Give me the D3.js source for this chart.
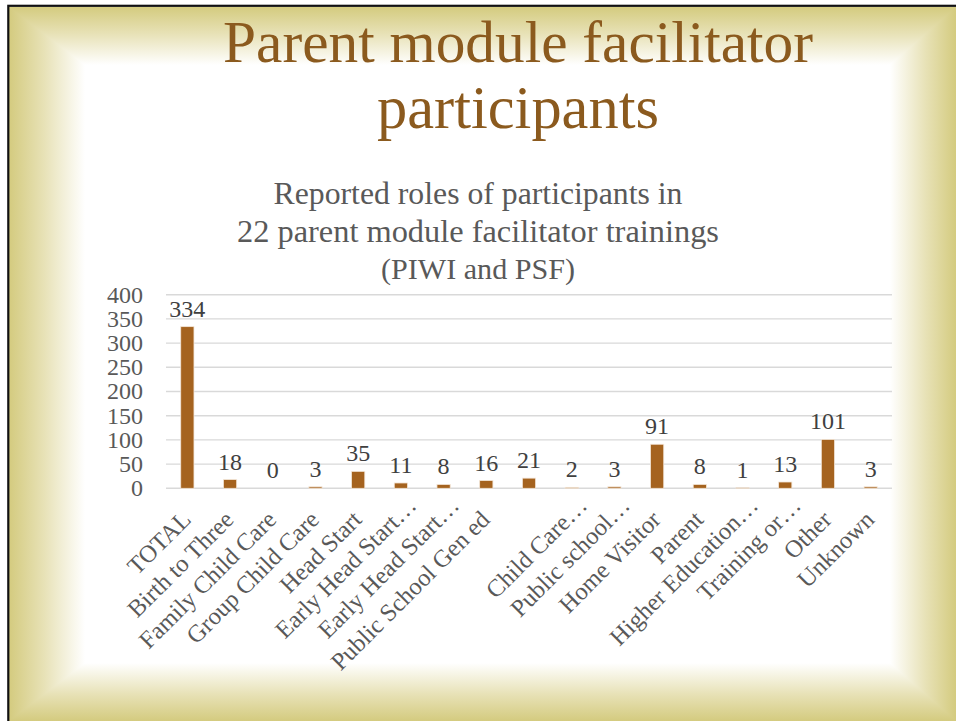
<!DOCTYPE html>
<html>
<head>
<meta charset="utf-8">
<script src="https://cdn.jsdelivr.net/npm/d3@7"></script>
<style>
  html, body { margin: 0; padding: 0; background: #fff; }
  svg { display: block; }
  text { font-family: "Liberation Serif", "DejaVu Serif", serif; }
</style>
</head>
<body>
<svg id="slide" width="956" height="721"></svg>
<script>
const width = 956;
const height = 721;

// roles (as labelled on the axis, the 9th one has no label)
const roles = [
  'TOTAL',
  'Birth to Three',
  'Family Child Care',
  'Group Child Care',
  'Head Start',
  'Early Head Start…',
  'Early Head Start…',
  'Public School Gen ed',
  '',
  'Child Care…',
  'Public school…',
  'Home Visitor',
  'Parent',
  'Higher Education…',
  'Training or…',
  'Other',
  'Unknown'
];
const counts = [334, 18, 0, 3, 35, 11, 8, 16, 21, 2, 3, 91, 8, 1, 13, 101, 3];
const yTicks = [0, 50, 100, 150, 200, 250, 300, 350, 400];
const titleLines = ['Parent module facilitator', 'participants'];
const chartTitleLines = [
  'Reported roles of participants in',
  '22 parent module facilitator  trainings',
  '(PIWI and PSF)'
];

const khaki = '#D4CB7F';
const barColor = '#A5631F';

const svg = d3.select('#slide');
const defs = svg.append('defs');

// SLIDE BACKGROUND: white centre, khaki edges with mitred corners
const outer = { x0: 9, y0: 7, x1: width, y1: height };
const inner = { x0: 85, y0: 65, x1: 890, y1: 663 };

svg.append('rect')
  .attr('width', width)
  .attr('height', height)
  .attr('fill', '#fff');

const edges = [
  { id: 'gl', horiz: true, from: outer.x0, to: inner.x0,
    pts: [[outer.x0, outer.y0], [inner.x0, inner.y0], [inner.x0, inner.y1], [outer.x0, outer.y1]] },
  { id: 'gt', horiz: false, from: outer.y0, to: inner.y0,
    pts: [[outer.x0, outer.y0], [outer.x1, outer.y0], [inner.x1, inner.y0], [inner.x0, inner.y0]] },
  { id: 'gr', horiz: true, from: outer.x1, to: inner.x1,
    pts: [[outer.x1, outer.y0], [outer.x1, outer.y1], [inner.x1, inner.y1], [inner.x1, inner.y0]] },
  { id: 'gb', horiz: false, from: outer.y1, to: inner.y1,
    pts: [[outer.x0, outer.y1], [inner.x0, inner.y1], [inner.x1, inner.y1], [outer.x1, outer.y1]] }
];

edges.forEach(e => {
  const g = defs.append('linearGradient')
    .attr('id', e.id)
    .attr('gradientUnits', 'userSpaceOnUse')
    .attr('x1', e.horiz ? e.from : 0)
    .attr('x2', e.horiz ? e.to : 0)
    .attr('y1', e.horiz ? 0 : e.from)
    .attr('y2', e.horiz ? 0 : e.to);
  g.append('stop').attr('offset', 0).attr('stop-color', khaki);
  g.append('stop').attr('offset', 0.45).attr('stop-color', '#E7E1B5');
  g.append('stop').attr('offset', 1).attr('stop-color', '#fff');
  svg.append('polygon')
    .attr('points', e.pts.map(p => p.join(',')).join(' '))
    .attr('fill', `url(#${e.id})`)
    .attr('shape-rendering', 'crispEdges');
});

// black frame (runs off the right and bottom of the picture)
svg.append('rect')
  .attr('x', 8.3)
  .attr('y', 5.8)
  .attr('width', width + 20)
  .attr('height', height + 20)
  .attr('fill', 'none')
  .attr('stroke', '#111')
  .attr('stroke-width', 2.2);

// fit a text element to a given width by scaling its font size
const fitWidth = (sel, target) => {
  const size = parseFloat(sel.attr('font-size'));
  const w = sel.node().getComputedTextLength();
  sel.attr('font-size', size * target / w);
};

// TITLES
const titleY = [62, 128];
const titleW = [590, 282];
titleLines.forEach((line, i) => {
  const t = svg.append('text')
    .attr('x', 518)
    .attr('y', titleY[i])
    .attr('text-anchor', 'middle')
    .attr('fill', '#8B5A1E')
    .attr('font-size', 52)
    .text(line);
  fitWidth(t, titleW[i]);
});

const chartTitleY = [204, 242, 279];
const chartTitleW = [409, 482, 194];
chartTitleLines.forEach((line, i) => {
  const t = svg.append('text')
    .attr('x', 478)
    .attr('y', chartTitleY[i])
    .attr('text-anchor', 'middle')
    .attr('fill', '#595959')
    .attr('font-size', 25)
    .text(line);
  fitWidth(t, chartTitleW[i]);
});

// SCALES
const x = d3.scaleBand()
  .domain(d3.range(roles.length))
  .range([166, 892])
  .paddingInner(0.69)
  .paddingOuter(0.345);

const y = d3.scaleLinear()
  .domain([0, 400])
  .range([488.3, 294.7]);

// GRIDLINES
svg.append('g')
  .selectAll('line')
  .data(yTicks)
  .join('line')
  .attr('x1', 166)
  .attr('x2', 892)
  .attr('y1', d => y(d))
  .attr('y2', d => y(d))
  .attr('stroke', '#D9D9D9')
  .attr('stroke-width', 1.4);

// Y AXIS LABELS
svg.append('g')
  .selectAll('text')
  .data(yTicks)
  .join('text')
  .attr('x', 143)
  .attr('y', d => y(d))
  .attr('dy', '0.33em')
  .attr('text-anchor', 'end')
  .attr('fill', '#595959')
  .attr('font-size', 24)
  .text(d => d);

// BARS
svg.append('g')
  .selectAll('rect')
  .data(counts)
  .join('rect')
  .attr('x', (d, i) => x(i))
  .attr('y', d => y(d))
  .attr('width', x.bandwidth())
  .attr('height', d => y(0) - y(d))
  .attr('fill', barColor)
  .attr('stroke', '#F3E6D8')
  .attr('stroke-width', 0.8);

// DATA LABELS
svg.append('g')
  .selectAll('text')
  .data(counts)
  .join('text')
  .attr('x', (d, i) => x(i) + x.bandwidth() / 2)
  .attr('y', d => y(d) - 10)
  .attr('text-anchor', 'middle')
  .attr('fill', '#404040')
  .attr('font-size', 24)
  .text(d => d);

// CATEGORY LABELS (rotated)
svg.append('g')
  .selectAll('text')
  .data(roles)
  .join('text')
  .attr('transform', (d, i) => {
    const cx = x(i) + x.bandwidth() / 2;
    const cut = d.endsWith('…');
    const px = cx + (cut ? 17 : 5);
    const py = cut ? 507 : 521;
    return `translate(${px},${py}) rotate(-45)`;
  })
  .attr('text-anchor', 'end')
  .attr('fill', '#595959')
  .attr('font-size', 24.5)
  .text(d => d);
</script>
</body>
</html>
